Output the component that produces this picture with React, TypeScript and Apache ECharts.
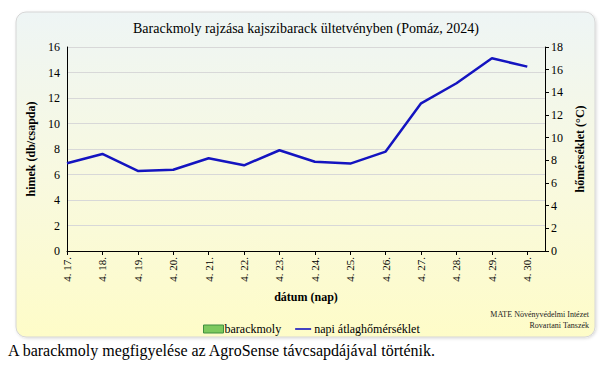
import React, { useEffect, useRef } from 'react';
import * as echarts from 'echarts';

const categories = ['4. 17.', '4. 18.', '4. 19.', '4. 20.', '4. 21.', '4. 22.', '4. 23.', '4. 24.', '4. 25.', '4. 26.', '4. 27.', '4. 28.', '4. 29.', '4. 30.'];
const mothCounts = [0, 0, 0, 0, 0, 0, 0, 0, 0, 0, 0, 0, 0, 0];
const temperature = [7.74, 8.56, 7.06, 7.17, 8.18, 7.56, 8.89, 7.88, 7.71, 8.77, 13.03, 14.8, 17.0, 16.27];
const leftTicks = { min: 0, max: 16, interval: 2 };
const rightTicks = { min: 0, max: 18, interval: 2 };

const SERIF = 'Times New Roman, Liberation Serif, serif';

export default function App() {
  const ref = useRef<HTMLDivElement>(null);
  useEffect(() => {
    if (!ref.current) return;
    const chart = echarts.init(ref.current, null, { renderer: 'svg' });
    const option: any = {
      animation: false,
      backgroundColor: '#ffffff',
      textStyle: { fontFamily: SERIF, color: '#000' },
      graphic: [
        {
          type: 'rect',
          z: -10,
          shape: { x: 16, y: 12, width: 579, height: 325, r: 10 },
          style: {
            fill: new echarts.graphic.LinearGradient(0, 0, 0, 1, [
              { offset: 0, color: '#eef5f5' },
              { offset: 0.5, color: '#f8f9e0' },
              { offset: 1, color: '#fefcc8' },
            ]),
            stroke: '#d6d6d6',
            lineWidth: 1,
            shadowBlur: 3,
            shadowColor: 'rgba(0,0,0,0.15)',
            shadowOffsetX: 1,
            shadowOffsetY: 1,
          },
        },
        {
          type: 'text',
          x: 306,
          y: 28,
          style: {
            text: 'Barackmoly rajzása kajszibarack ültetvényben (Pomáz, 2024)',
            fontFamily: SERIF,
            fontSize: 14,
            fill: '#000',
            align: 'center',
            verticalAlign: 'middle',
          },
        },
        {
          type: 'text',
          x: 589,
          y: 314,
          style: {
            text: 'MATE Növényvédelmi Intézet',
            fontFamily: SERIF,
            fontSize: 8,
            fill: '#222',
            align: 'right',
            verticalAlign: 'middle',
          },
        },
        {
          type: 'text',
          x: 589,
          y: 325,
          style: {
            text: 'Rovartani Tanszék',
            fontFamily: SERIF,
            fontSize: 8,
            fill: '#222',
            align: 'right',
            verticalAlign: 'middle',
          },
        },
        {
          type: 'text',
          x: 8,
          y: 350,
          style: {
            text: 'A barackmoly megfigyelése az AgroSense távcsapdájával történik.',
            fontFamily: SERIF,
            fontSize: 16,
            fill: '#000',
            align: 'left',
            verticalAlign: 'middle',
          },
        },
      ],
      legend: {
        left: 198,
        top: 318,
        itemGap: 14,
        itemWidth: 20,
        itemHeight: 8,
        textStyle: { fontFamily: SERIF, fontSize: 12, color: '#000', padding: [0, 0, 0, -4] },
        data: [
          { name: 'barackmoly', icon: 'rect', itemStyle: { color: '#7dc95e', borderColor: '#3f8f3f', borderWidth: 1 } },
          { name: 'napi átlaghőmérséklet', icon: 'path://M0,0 M0,10 M0,4 L20,4 L20,6 L0,6 Z', itemStyle: { color: '#1414c0', borderWidth: 0 } },
        ],
      },
      grid: { left: 67, top: 47, right: 60, bottom: 117 },
      xAxis: {
        type: 'value',
        min: 0,
        max: 13.5,
        interval: 1,
        name: 'dátum (nap)',
        nameLocation: 'middle',
        nameGap: 40,
        nameTextStyle: { fontFamily: SERIF, fontSize: 12, fontWeight: 'bold', color: '#000' },
        axisLine: { show: true, lineStyle: { color: '#000', width: 1 } },
        axisTick: { show: true, length: 4, lineStyle: { color: '#000' } },
        splitLine: { show: false },
        axisLabel: {
          rotate: 90,
          fontFamily: SERIF,
          fontSize: 11,
          color: '#000',
          margin: 6,
          showMaxLabel: false,
          formatter: (v: number) => (Number.isInteger(v) && categories[v] !== undefined ? categories[v] : ''),
        },
      },
      yAxis: [
        {
          type: 'value',
          position: 'left',
          min: leftTicks.min,
          max: leftTicks.max,
          interval: leftTicks.interval,
          name: 'himek (db/csapda)',
          nameLocation: 'middle',
          nameGap: 20,
          nameTextStyle: { fontFamily: SERIF, fontSize: 12, fontWeight: 'bold', color: '#000' },
          axisLine: { show: true, lineStyle: { color: '#000', width: 1 } },
          axisTick: { show: false },
          axisLabel: { fontFamily: SERIF, fontSize: 12, color: '#000', margin: 7 },
          splitLine: { show: true, lineStyle: { color: '#d8d8d8', width: 1 } },
        },
        {
          type: 'value',
          position: 'right',
          min: rightTicks.min,
          max: rightTicks.max,
          interval: rightTicks.interval,
          name: 'hőmérséklet (°C)',
          nameLocation: 'middle',
          nameGap: 28,
          nameRotate: 90,
          nameTextStyle: { fontFamily: SERIF, fontSize: 12, fontWeight: 'bold', color: '#000' },
          axisLine: { show: true, lineStyle: { color: '#000', width: 1 } },
          axisTick: { show: true, length: 4, inside: false, lineStyle: { color: '#000' } },
          axisLabel: { fontFamily: SERIF, fontSize: 12, color: '#000', margin: 6 },
          splitLine: { show: false },
        },
      ],
      series: [
        {
          name: 'barackmoly',
          type: 'bar',
          yAxisIndex: 0,
          barWidth: 18,
          itemStyle: { color: '#7dc95e', borderWidth: 0 },
          data: mothCounts.map((v, i) => [i, v]),
        },
        {
          name: 'napi átlaghőmérséklet',
          type: 'line',
          yAxisIndex: 1,
          symbol: 'none',
          lineStyle: { color: '#1414c0', width: 2.5 },
          itemStyle: { color: '#1414c0' },
          data: temperature.map((v, i) => [i, v]),
        },
      ],
    };
    chart.setOption(option);
    return () => chart.dispose();
  }, []);
  return (
    <div
      ref={ref}
      style={{ position: 'absolute', left: 0, top: 0, width: 605, height: 368 }}
    />
  );
}
